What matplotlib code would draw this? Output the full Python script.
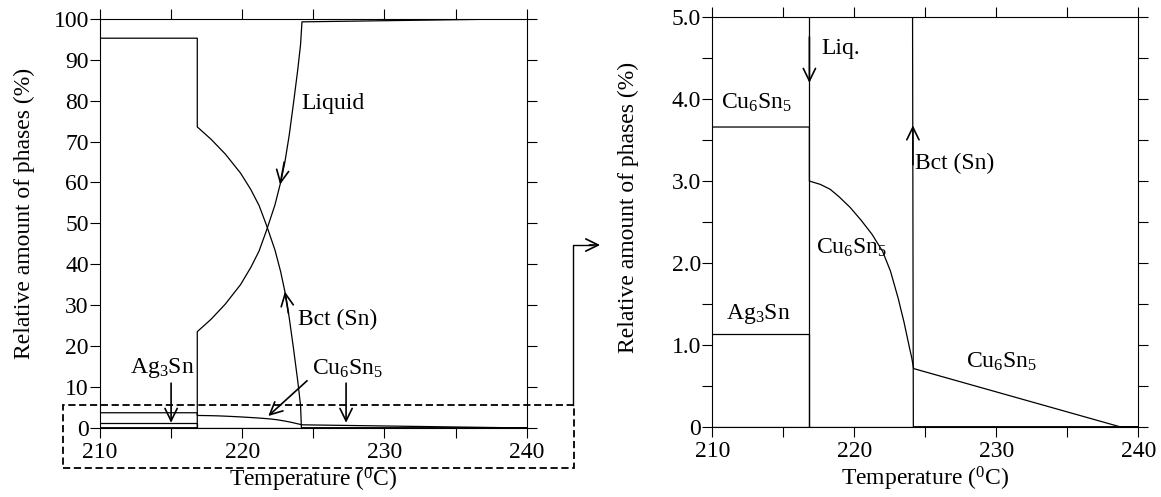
import matplotlib
matplotlib.use('Agg')
import matplotlib.pyplot as plt
from matplotlib.patches import Rectangle

plt.rcParams['font.family'] = ['Liberation Serif', 'DejaVu Serif']
plt.rcParams['mathtext.fontset'] = 'custom'
plt.rcParams['mathtext.rm'] = 'Liberation Serif'
plt.rcParams['mathtext.it'] = 'Liberation Serif:italic'
plt.rcParams['font.size'] = 17

# phase fractions (%) against temperature (deg C)
bct_T = [210, 216.84, 216.84, 217.8, 218.8, 219.88, 220.6, 221.18, 221.7, 222.3, 222.7,
         223.0, 223.3, 223.6, 223.9, 224.1, 224.16, 240]
bct_v = [95.3, 95.3, 73.6, 70.6, 67.0, 62.3, 58.3, 54.4, 49.6, 43.5, 38.2,
         33.3, 27.0, 19.5, 11.5, 5.5, 0.0, 0.0]

liq_T = [210, 216.84, 216.84, 217.8, 218.8, 219.88, 220.6, 221.18, 221.7, 222.3, 222.7,
         223.0, 223.3, 223.6, 223.9, 224.1, 224.2, 238.7, 240]
liq_v = [0.0, 0.0, 23.5, 26.5, 30.2, 35.0, 39.2, 43.2, 48.2, 54.5, 60.0,
         65.0, 71.5, 79.3, 87.5, 93.7, 99.3, 100.0, 100.0]

cu_T = [210, 216.84, 216.84, 217.6, 218.3, 218.92, 219.7, 220.49, 221.25, 222.0, 222.55,
        223.09, 223.5, 223.87, 224.05, 224.18, 238.7, 240]
cu_v = [3.66, 3.66, 3.0, 2.96, 2.90, 2.81, 2.68, 2.52, 2.35, 2.14, 1.90,
        1.57, 1.28, 0.98, 0.84, 0.71, 0.0, 0.0]

ag_T = [210, 216.84, 216.84, 240]
ag_v = [1.13, 1.13, 0.0, 0.0]

xticks = [210, 215, 220, 225, 230, 235, 240]
xlabels = ['210', '', '220', '', '230', '', '240']
yticks_full = [0, 10, 20, 30, 40, 50, 60, 70, 80, 90, 100]
yticks_zoom = [0, 0.5, 1.0, 1.5, 2.0, 2.5, 3.0, 3.5, 4.0, 4.5, 5.0]
ylabels_zoom = ['0', '', '1.0', '', '2.0', '', '3.0', '', '4.0', '', '5.0']

fig = plt.figure(figsize=(11.61, 4.97), dpi=100)
ax1 = fig.add_axes([0.0861, 0.1394, 0.3676, 0.8224])
ax2 = fig.add_axes([0.6135, 0.1414, 0.3669, 0.8238])

lw = 0.9
for ax in (ax1, ax2):
    ax.plot(bct_T, bct_v, color='black', lw=lw)
    ax.plot(liq_T, liq_v, color='black', lw=lw)
    ax.plot(cu_T, cu_v, color='black', lw=lw)
    ax.plot(ag_T, ag_v, color='black', lw=lw)
    ax.set_xlim(210, 240)
    ax.set_xticks(xticks)
    ax.set_xticklabels(xlabels)
    ax.tick_params(direction='out', length=7, width=0.8, top=True, right=True,
                   labelsize=17)
    ax.tick_params(axis='x', pad=3)
    ax.tick_params(axis='y', pad=1)
    for s in ax.spines.values():
        s.set_linewidth(0.8)
    ax.set_xlabel('Temperature ($^0$C)', fontsize=17, labelpad=2)
    ax.set_ylabel('Relative amount of phases (%)', fontsize=17, va='center')

ax1.set_ylim(0, 100)
ax1.set_yticks(yticks_full)
ax1.yaxis.set_label_coords(-0.178, 0.525)

ax2.set_ylim(0, 5)
ax2.set_yticks(yticks_zoom)
ax2.set_yticklabels(ylabels_zoom)
ax2.yaxis.set_label_coords(-0.198, 0.535)

arrow = dict(arrowstyle='->, head_length=0.45, head_width=0.22', color='black',
             lw=1.2, mutation_scale=20, shrinkA=0, shrinkB=0)

# full-range panel labels
ax1.text(224.17, 79.4, 'Liquid', ha='left', va='center')
ax1.annotate('', xy=(222.66, 59.5), xytext=(222.95, 65.0), arrowprops=arrow)
ax1.text(223.9, 26.4, 'Bct (Sn)', ha='left', va='center')
ax1.annotate('', xy=(223.0, 33.3), xytext=(223.25, 28.0), arrowprops=arrow)
ax1.text(214.4, 14.5, 'Ag$_3$Sn', ha='center', va='center')
ax1.annotate('', xy=(215.0, 1.2), xytext=(215.0, 10.9), arrowprops=arrow)
ax1.text(227.4, 14.5, 'Cu$_6$Sn$_5$', ha='center', va='center')
ax1.annotate('', xy=(227.3, 1.2), xytext=(227.3, 10.9), arrowprops=arrow)
ax1.annotate('', xy=(221.83, 2.86), xytext=(224.56, 11.5), arrowprops=arrow)

# dashed box around the 0-5 % band and the link to the zoomed panel
ax1.add_patch(Rectangle((207.38, -9.74), 35.95, 15.42, fill=False, ec='black',
                        lw=1.3, ls=(0, (4, 2)), clip_on=False))
ax1.plot([243.24, 243.24, 244.6], [5.68, 44.7, 44.7], color='black', lw=1.0,
         clip_on=False)
ax1.annotate('', xy=(245.16, 44.7), xytext=(244.4, 44.7), arrowprops=arrow,
             annotation_clip=False)

# zoomed panel labels
ax2.text(217.65, 4.62, 'Liq.', ha='left', va='center')
ax2.annotate('', xy=(216.84, 4.2), xytext=(216.84, 4.76), arrowprops=arrow)
ax2.text(210.6, 3.95, 'Cu$_6$Sn$_5$', ha='left', va='center')
ax2.text(224.3, 3.22, 'Bct (Sn)', ha='left', va='center')
ax2.annotate('', xy=(224.13, 3.68), xytext=(224.13, 3.2), arrowprops=arrow)
ax2.text(217.3, 2.18, 'Cu$_6$Sn$_5$', ha='left', va='center')
ax2.text(210.97, 1.38, 'Ag$_3$Sn', ha='left', va='center')
ax2.text(227.9, 0.79, 'Cu$_6$Sn$_5$', ha='left', va='center')

fig.savefig('out.png', dpi=100)
